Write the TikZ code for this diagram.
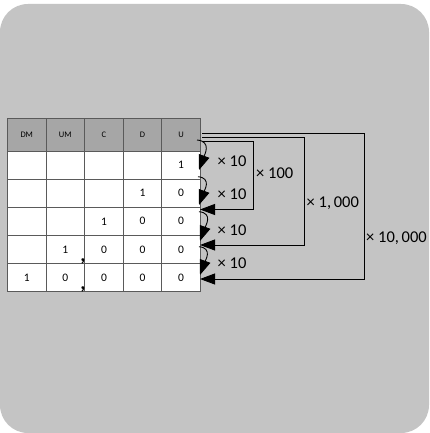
\documentclass[tikz,border=0pt]{standalone}
\usepackage{fontspec}
\setmainfont{Carlito}
\usetikzlibrary{arrows.meta,calc}
\definecolor{bg}{HTML}{C4C4C4}
\definecolor{hd}{HTML}{A6A6A6}
\definecolor{bd}{HTML}{5A5A5A}
\begin{document}
\begin{tikzpicture}[x=1pt,y=-1pt,
  cell/.style={draw=bd,line width=0.9pt,inner sep=0pt,minimum width=38.6pt,minimum height=28.06pt,anchor=north west,fill=white,font=\fontsize{11.5}{11.5}\selectfont},
  hcell/.style={cell,fill=hd,minimum height=32.7pt,font=\fontsize{8.5}{8.5}\selectfont},
  arr/.style={-{Triangle[length=15pt,width=11pt]},line width=0.9pt,black},
  lab/.style={font=\fontsize{16.5}{16.5}\selectfont,inner sep=0.5pt,anchor=west},
  sepmark/.style={font=\fontsize{20}{20}\selectfont\bfseries,inner sep=0pt}]
\useasboundingbox (0,0) rectangle (429,433);
\fill[white] (0,0) rectangle (429,433);
\fill[bg,rounded corners=28pt] (0,4) rectangle (429,433);
% header
\foreach \t [count=\i from 0] in {DM,UM,C,D,U}
  \node[hcell] (h\i) at (7+38.6*\i,118) {\t};
% rows
\foreach \a/\b/\c/\d/\e [count=\r] in {{}/{}/{}/{}/1,{}/{}/{}/1/0,{}/{}/1/0/0,{}/1/0/0/0,1/0/0/0/0}{
  \node[cell] (r\r c0) at (7,150.7+28.06*\r-28.06) {\a};
  \node[cell] (r\r c1) at (7+38.6,150.7+28.06*\r-28.06) {\b};
  \node[cell] (r\r c2) at (7+38.6*2,150.7+28.06*\r-28.06) {\c};
  \node[cell] (r\r c3) at (7+38.6*3,150.7+28.06*\r-28.06) {\d};
  \node[cell] (r\r c4) at (7+38.6*4,150.7+28.06*\r-28.06) {\e};
}
% thousand separators
\node[sepmark] (k1) at (83,261.5) {,};
\node[sepmark] (k2) at (83,289.5) {,};
% curved x10 arrows
\coordinate (s1) at (197,140);   \coordinate (t1) at (199,170);
\coordinate (s2) at (198,176.7); \coordinate (t2) at (199,205);
\coordinate (s3) at (199,211.7); \coordinate (t3) at (200,241);
\coordinate (s4) at (199,246.7); \coordinate (t4) at (200,275);
\foreach \k in {1,2,3,4}
  \draw[arr] (s\k) to[out=-5,in=70,looseness=1.3] (t\k);
\node[lab] (x1) at (217,161.7) {× 10};
\node[lab] (x2) at (217,194) {× 10};
\node[lab] (x3) at (217,230.7) {× 10};
\node[lab] (x4) at (217,263.3) {× 10};
% brackets
\coordinate (a2) at (202,141.3); \coordinate (e2) at (200,209.5);
\coordinate (a3) at (202,137.3); \coordinate (e3) at (200,245);
\coordinate (a4) at (202,133.3); \coordinate (e4) at (200,279);
\draw[arr] (a2) -- (253.3,141.3) |- (e2);
\draw[arr] (a3) -- (304.3,137.3) |- (e3);
\draw[arr] (a4) -- (364.7,133.3) |- (e4);
\node[lab] (y2) at (255.5,173.3) {× 100};
\node[lab] (y3) at (306,203.3) {× 1,\,000};
\node[lab] (y4) at (365.5,238.3) {× 10,\,000};
\end{tikzpicture}
\end{document}
